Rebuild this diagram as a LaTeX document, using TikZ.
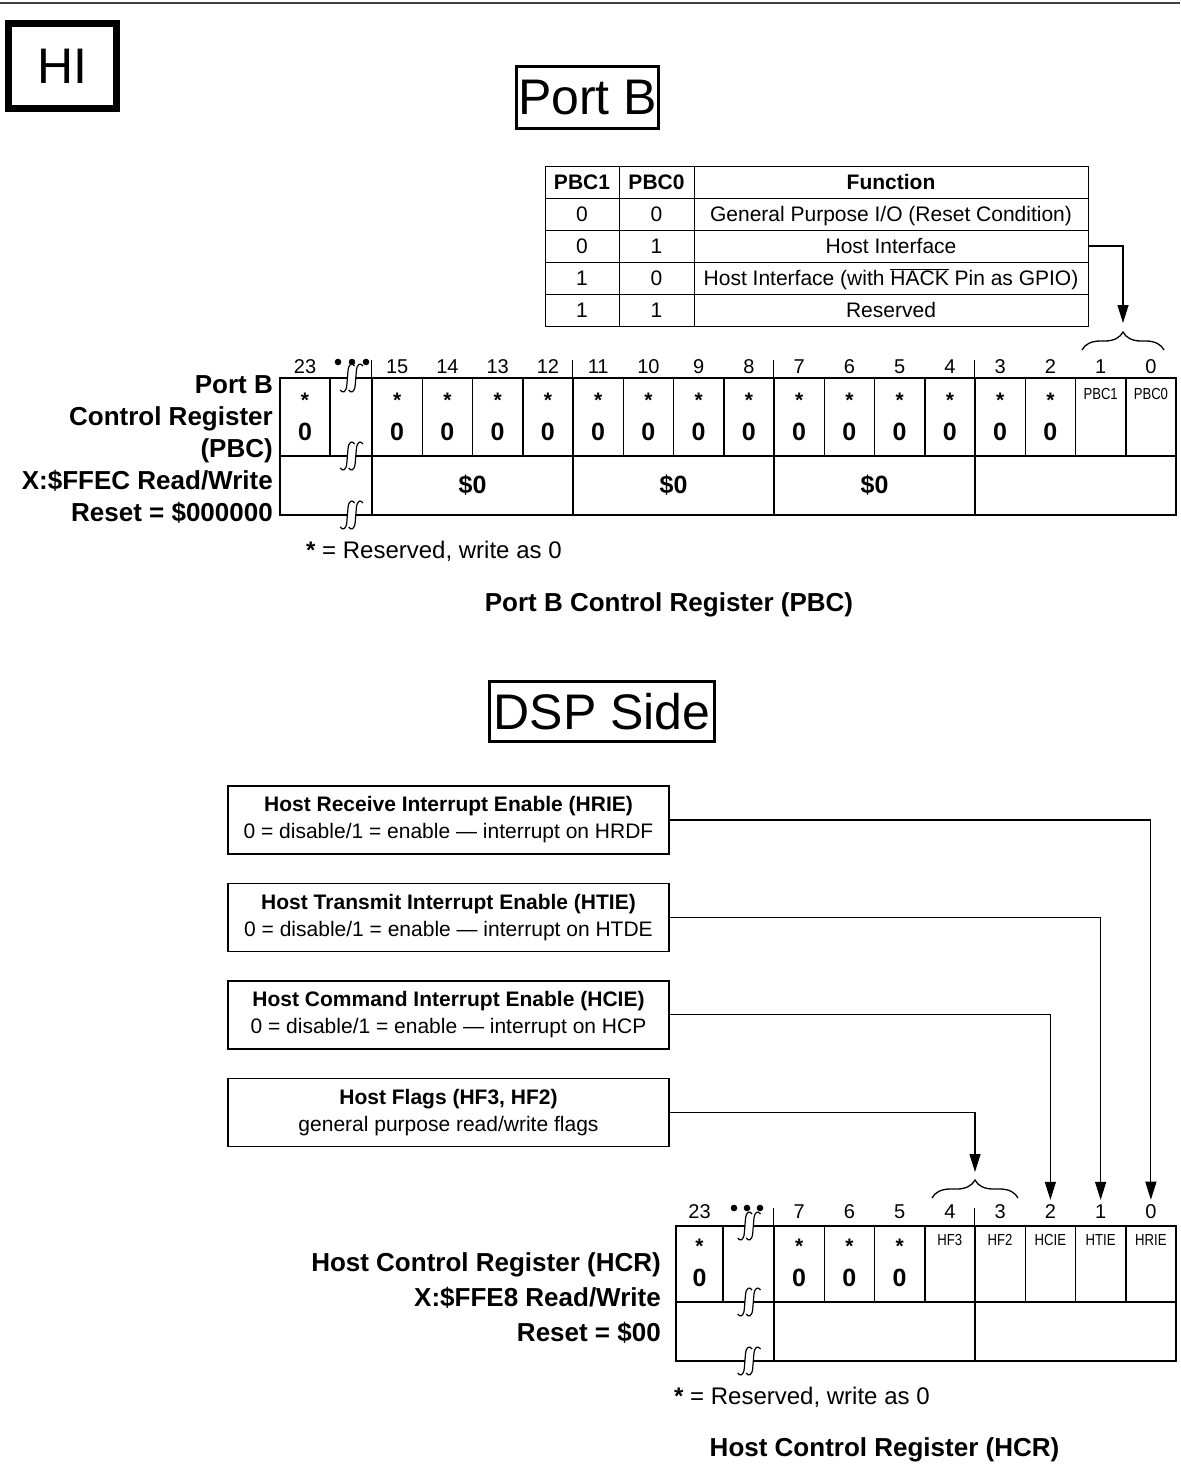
\documentclass[tikz,border=0pt]{standalone}
\usepackage{fontspec}
\setmainfont{Liberation Sans}
\newfontfamily\narrowfont[FakeStretch=0.82]{Liberation Sans}
\usepackage{tikz}
\usetikzlibrary{arrows.meta,positioning,decorations.pathreplacing}
\newcommand{\fsz}[2]{\fontsize{#1}{#2}\selectfont}
\tikzset{
  titlebox/.style={draw, line width=3pt, inner sep=0pt, font=\fsz{50}{56}},
  bitcell/.style={draw, line width=1.5pt, inner sep=0pt, minimum width=50.25pt,
                  minimum height=78pt},
  grpcell/.style={bitcell, minimum width=201pt, minimum height=59pt,
                  font=\bfseries\fsz{25}{28}},
  bitnum/.style={inner sep=2pt, font=\fsz{20}{24}},
  resv/.style={inner sep=0pt, font=\bfseries\fsz{21}{24}},
  zero/.style={inner sep=0pt, font=\bfseries\fsz{25}{28}},
  fname/.style={inner sep=0pt, font=\narrowfont\fsz{16}{18}},
  reglabel/.style={anchor=east, inner sep=0pt, align=right, font=\bfseries\fsz{26}{32}},
  figcap/.style={inner sep=0pt, font=\bfseries\fsz{26}{30}},
  starnote/.style={anchor=west, inner sep=0pt, font=\fsz{24}{28}},
  tcell/.style={draw, line width=1pt, inner sep=0pt, minimum height=32pt,
                text height=17pt, text depth=2pt, font=\fsz{21}{24}},
  thead/.style={tcell, font=\bfseries\fsz{21}{24}},
  infobox/.style={draw, line width=1.4pt, inner sep=0pt, minimum width=441pt,
                  minimum height=68pt, align=center, font=\fsz{21}{27}},
  link/.style={line width=1.1pt, -{Triangle[length=18pt,width=11pt]}},
  fieldbrace/.style={line width=1.3pt, decorate, decoration={brace, amplitude=18pt}},
  brk/.pic={
    \fill[white] (-9,10) .. controls (-7,13) and (-4,12) .. (-3.5,6)
      -- (-2.5,-6) .. controls (-2,-12) and (1,-13) .. (3,-10)
      -- (10,-10) .. controls (8,-13) and (5,-12) .. (4.5,-6)
      -- (3.5,6) .. controls (3,12) and (0,13) .. (-2,10) -- cycle;
    \draw[line width=1.2pt] (-9,10) .. controls (-7,13) and (-4,12) .. (-3.5,6)
      -- (-2.5,-6) .. controls (-2,-12) and (1,-13) .. (3,-10);
    \draw[line width=1.2pt] (-2,10) .. controls (0,13) and (3,12) .. (3.5,6)
      -- (4.5,-6) .. controls (5,-12) and (8,-13) .. (10,-10);
  }
}

\begin{document}
\begin{tikzpicture}[x=1pt, y=-1pt]
  \useasboundingbox (0,0) rectangle (1180,1477);
  \draw[line width=2pt, black!75] (0,3) -- (1180,3);

  \node[draw, line width=7pt, inner sep=0pt, minimum width=108pt, minimum height=85pt,
        font=\fsz{50}{54}] (hi) at (62.5,66) {HI};
  \node[titlebox, minimum width=142pt, minimum height=62pt] (portb) at (587.5,97.5) {Port B};

  % PBC function table
  \node[thead, minimum width=74pt] (tc1) at (582,182) {PBC1};
  \node[thead, minimum width=75pt] (tc0) at (656.5,182) {PBC0};
  \node[thead, minimum width=394pt] (tfn) at (891,182) {Function};
  \foreach \r/\y/\a/\b in {1/214/0/0, 2/246/0/1, 3/278/1/0, 4/310/1/1}{
    \node[tcell, minimum width=74pt] (ra\r) at (582,\y) {\a};
    \node[tcell, minimum width=75pt] (rb\r) at (656.5,\y) {\b};
  }
  \node[tcell, minimum width=394pt] (rf1) at (891,214) {General Purpose I/O (Reset Condition)};
  \node[tcell, minimum width=394pt] (rf2) at (891,246) {Host Interface};
  \node[tcell, minimum width=394pt] (rf3) at (891,278) {Host Interface (with $\overline{\mbox{HACK}}$ Pin as GPIO)};
  \node[tcell, minimum width=394pt] (rf4) at (891,310) {Reserved};

  % Port B control register
  \node[bitcell] (p23) at (305,417) {};
  \node[bitcell, minimum width=42pt] (pbrk) at (351,417) {};
  \node[bitnum] (pn23) at (305,367) {23};
  \foreach \b in {15,...,0}{
    \pgfmathsetmacro\cx{372+(15-\b)*50.25+25.125}
    \node[bitcell] (p\b) at (\cx,417) {};
    \node[bitnum] (pn\b) at (\cx,367) {\b};
  }
  \node[resv] at ([yshift=-23pt]p23.north) {*};
  \node[zero] at ([yshift=-55pt]p23.north) {0};
  \foreach \b in {15,...,2}{
    \node[resv] at ([yshift=-23pt]p\b.north) {*};
    \node[zero] at ([yshift=-55pt]p\b.north) {0};
  }
  \node[fname] at ([yshift=-17pt]p1.north) {PBC1};
  \node[fname] at ([yshift=-17pt]p0.north) {PBC0};
  \node[bitcell, minimum width=92pt, minimum height=59pt] (pleft) at (326,485.5) {};
  \foreach \g/\t in {3/\$0, 2/\$0, 1/\$0, 0/}{
    \node[grpcell] (pg\g) at ({372+(3-\g)*201+100.5},485.5) {\t};
  }
  \foreach \b in {15,11,7,3}
    \draw[line width=1.5pt] (p\b.north west) -- ++(0,-17);
  \foreach \x in {338,352,366}
    \fill (\x,362) circle[radius=3.3pt];
  \foreach \y in {378,456,515}
    \pic[scale=1.2] at (351,\y) {brk};
  \node[reglabel] (pbclab) at (273,450)
    {Port B\\Control Register\\(PBC)\\X:\$FFEC Read/Write\\Reset = \$000000};
  \node[starnote] (pbcnote) at (306,551) {\textbf{*} = Reserved, write as 0};
  \node[figcap] (pbccap) at (669,605) {Port B Control Register (PBC)};

  \draw[fieldbrace] (1082,350) -- (1164,350);
  \coordinate (pbctip) at (1123,323);
  \draw[link] (rf2.east) -| (pbctip);

  % DSP side
  \node[titlebox, minimum width=225pt, minimum height=60pt] (dsp) at (602,711.5) {DSP Side};
  \node[infobox] (hrie) at (448.5,820)
    {\textbf{Host Receive Interrupt Enable (HRIE)}\\0 = disable/1 = enable — interrupt on HRDF};
  \node[infobox, below=28pt of hrie] (htie)
    {\textbf{Host Transmit Interrupt Enable (HTIE)}\\0 = disable/1 = enable — interrupt on HTDE};
  \node[infobox, below=28pt of htie] (hcie)
    {\textbf{Host Command Interrupt Enable (HCIE)}\\0 = disable/1 = enable — interrupt on HCP};
  \node[infobox, below=28pt of hcie] (hflags)
    {\textbf{Host Flags (HF3, HF2)}\\general purpose read/write flags};

  % Host control register
  \node[bitcell, minimum width=47pt, minimum height=76pt] (h23) at (699.5,1264) {};
  \node[bitcell, minimum width=51pt, minimum height=76pt] (hbrk) at (748.5,1264) {};
  \node[bitnum] (hn23) at (699.5,1212) {23};
  \foreach \b in {7,...,0}{
    \pgfmathsetmacro\cx{774+(7-\b)*50.25+25.125}
    \node[bitcell, minimum height=76pt] (h\b) at (\cx,1264) {};
    \node[bitnum] (hn\b) at (\cx,1212) {\b};
  }
  \foreach \b in {23,7,6,5}{
    \node[resv] at ([yshift=-21pt]h\b.north) {*};
    \node[zero] at ([yshift=-53pt]h\b.north) {0};
  }
  \foreach \b/\t in {4/HF3, 3/HF2, 2/HCIE, 1/HTIE, 0/HRIE}
    \node[fname] at ([yshift=-15pt]h\b.north) {\t};
  \node[bitcell, minimum width=98pt, minimum height=59pt] (hleft) at (725,1331.5) {};
  \node[grpcell] (hg1) at (874.5,1331.5) {};
  \node[grpcell] (hg0) at (1075.5,1331.5) {};
  \foreach \b in {7,3}
    \draw[line width=1.5pt] (h\b.north west) -- ++(0,-17);
  \foreach \x in {734,747,760}
    \fill (\x,1208) circle[radius=3.3pt];
  \foreach \y in {1226,1302,1361}
    \pic[scale=1.2] at (748.5,\y) {brk};
  \node[reglabel, font=\bfseries\fsz{26}{35}] (hcrlab) at (661,1298)
    {Host Control Register (HCR)\\X:\$FFE8 Read/Write\\Reset = \$00};
  \node[starnote] (hcrnote) at (674,1397) {\textbf{*} = Reserved, write as 0};
  \node[figcap] (hcrcap) at (884.5,1450) {Host Control Register (HCR)};

  \draw[fieldbrace] (932,1198) -- (1018,1198);
  \coordinate (hftip) at (975,1172);
  \draw[link] (hflags.east) -| (hftip);
  \draw[link, shorten >=3pt] (hcie.east) -| (hn2.north);
  \draw[link, shorten >=3pt] (htie.east) -| (hn1.north);
  \draw[link, shorten >=3pt] (hrie.east) -| (hn0.north);
\end{tikzpicture}
\end{document}
